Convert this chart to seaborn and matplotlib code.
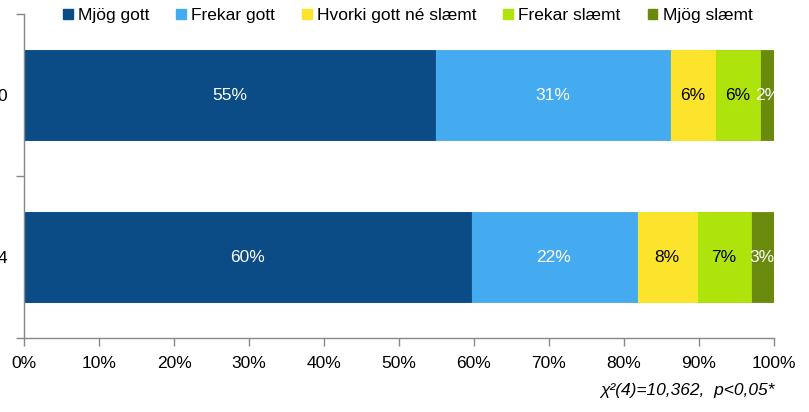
import matplotlib
matplotlib.use("Agg")
import matplotlib.pyplot as plt
from matplotlib.patches import Patch
import numpy as np
import pandas as pd
import seaborn as sns

# data
years = ["2010", "2014"]
categories = ["Mjög gott", "Frekar gott", "Hvorki gott né slæmt", "Frekar slæmt", "Mjög slæmt"]
share_2010 = [54.8, 31.4, 5.9, 6.1, 1.8]
share_2014 = [59.6, 22.1, 8.0, 7.2, 3.1]
colors = ["#0b4c86", "#45abf0", "#fde42c", "#aee40c", "#6a8a0e"]
label_colors = ["white", "white", "black", "black", "white"]
note = "χ²(4)=10,362,  p<0,05*"

sns.set_theme(style="white")
plt.rcParams["font.family"] = ["Liberation Sans", "DejaVu Sans"]
plt.rcParams["text.color"] = "black"
plt.rcParams["xtick.color"] = "black"
plt.rcParams["ytick.color"] = "black"
fs = 12.5

df = pd.DataFrame([share_2010, share_2014], index=years, columns=categories)
cum = df.cumsum(axis=1)

fig = plt.figure(figsize=(8.09, 4.12), dpi=100)
ax = fig.add_axes([0.0297, 0.1796, 0.9270, 0.7864])

# stacked bars: draw cumulative totals from the largest down
for cat, col in reversed(list(zip(categories, colors))):
    sns.barplot(x=cum[cat].values, y=years, orient="h", color=col,
                width=0.56, ax=ax, saturation=1, edgecolor=col, linewidth=0.6)

# segment labels
for i, yr in enumerate(years):
    left = 0
    for j, cat in enumerate(categories):
        v = df.loc[yr, cat]
        ax.text(left + v / 2, i, f"{round(v):.0f}%", ha="center", va="center",
                fontsize=fs, color=label_colors[j])
        left += v

ax.set_xlim(0, 100)
ax.set_ylim(1.5, -0.5)
ax.set_xticks(np.arange(0, 101, 10))
ax.set_xticklabels([f"{t}%" for t in range(0, 101, 10)], fontsize=fs)
ax.set_yticks([0, 1])
ax.set_yticklabels(years, fontsize=fs)
ax.set_yticks([-0.5, 0.5, 1.5], minor=True)
ax.tick_params(axis="y", which="major", length=0, pad=12)
ax.tick_params(axis="y", which="minor", length=6, width=1, color="#888888", left=True)
ax.tick_params(axis="x", length=6, width=1, color="#888888", bottom=True, pad=7)
ax.set_xlabel("")
ax.set_ylabel("")
for s in ["top", "right"]:
    ax.spines[s].set_visible(False)
for s in ["left", "bottom"]:
    ax.spines[s].set_color("#888888")
    ax.spines[s].set_linewidth(1)
ax.grid(False)

handles = [Patch(facecolor=c, edgecolor=c) for c in colors]
fig.legend(handles, categories, loc="center", bbox_to_anchor=(0.504, 0.962), ncol=5,
           frameon=False, fontsize=fs, handlelength=0.57, handleheight=0.57,
           handletextpad=0.29, columnspacing=1.55, borderaxespad=0, borderpad=0)

fig.text(0.957, 0.052, note, ha="right", va="center", fontsize=fs, style="italic")

fig.savefig("out.png", dpi=100)
